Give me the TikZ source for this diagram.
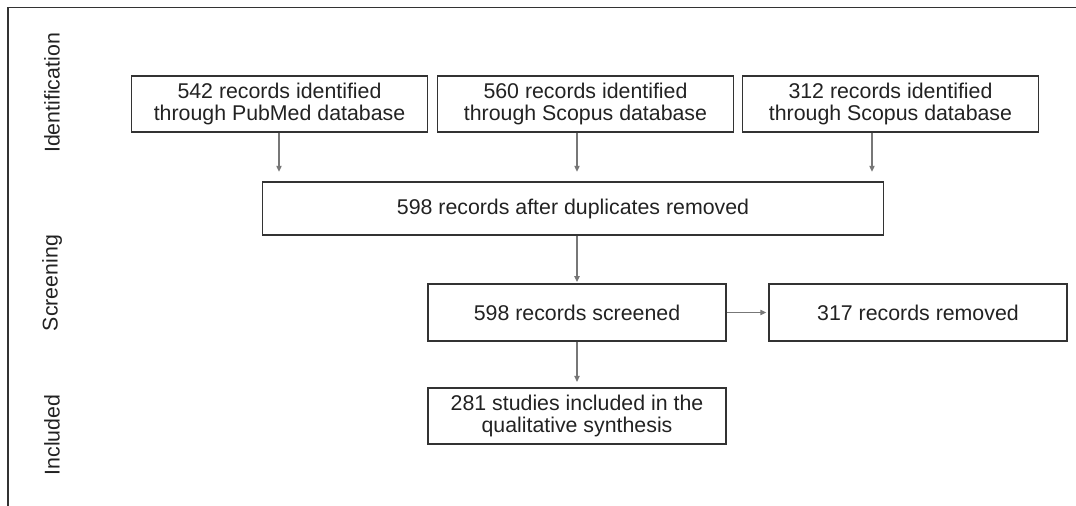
\documentclass[tikz,border=0pt]{standalone}
\usepackage{fontspec}
\setmainfont{Liberation Sans}
\usetikzlibrary{arrows.meta}
\definecolor{boxline}{HTML}{333333}
\definecolor{arrline}{HTML}{777777}
\definecolor{txt}{HTML}{222222}
\begin{document}
\begin{tikzpicture}[x=0.75pt,y=-0.75pt,
  box/.style={draw=boxline,line width=1.1pt,inner sep=0pt,align=center,
    font=\fontsize{16}{16}\selectfont,text=txt},
  arr/.style={draw=arrline,line width=0.9pt,-{Triangle[length=4.5pt,width=4pt]},shorten >=7pt},
  arrh/.style={draw=arrline,line width=0.9pt,-{Triangle[length=4.5pt,width=4pt]}},
  phase/.style={rotate=90,font=\fontsize{16}{16}\selectfont,text=txt}]
\useasboundingbox (0,0) rectangle (1076,506);
\draw[boxline,line width=1pt] (1076,7.5) -- (8,7.5) -- (8,506);
\node[phase] (pid) at (52,93) {Identification};
\node[phase] (psc) at (52,283) {Screening};
\node[phase] (pin) at (52,435) {Included};
\node[box,minimum width=222pt,minimum height=42pt] (a) at (279.5,104) {542 records identified\\through PubMed database};
\node[box,minimum width=222pt,minimum height=42pt] (b) at (585.5,104) {560 records identified\\through Scopus database};
\node[box,minimum width=222pt,minimum height=42pt] (c) at (890.5,104) {312 records identified\\through Scopus database};
\node[box,minimum width=466pt,minimum height=40pt] (d) at (573,208.5) {598 records after duplicates removed};
\node[box,minimum width=223.5pt,minimum height=42.5pt] (s) at (577,312.5) {598 records screened};
\node[box,minimum width=223.5pt,minimum height=42.5pt] (r) at (918,312.5) {317 records removed};
\node[box,minimum width=223.5pt,minimum height=42pt] (i) at (577,416) {281 studies included in the\\qualitative synthesis};
\draw[arr] (a.south -| 279,0) -- (d.north -| 279,0);
\draw[arr] (b.south -| 577,0) -- (d.north -| 577,0);
\draw[arr] (c.south -| 872,0) -- (d.north -| 872,0);
\draw[arr,shorten >=1pt] (d.south -| s.north) -- (s.north);
\draw[arrh,shorten >=1.5pt] (s.east) -- (r.west);
\draw[arr,shorten >=4pt] (s.south) -- (i.north);
\end{tikzpicture}
\end{document}
